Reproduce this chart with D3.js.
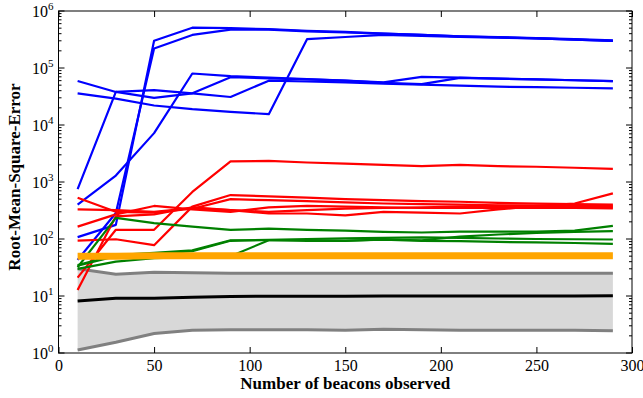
<!DOCTYPE html>
<html>
<head>
<meta charset="utf-8">
<script src="https://cdn.jsdelivr.net/npm/d3@7"></script>
<style>
  body { margin: 0; background: #fff; }
  svg { display: block; }
  text { font-family: "Liberation Serif", "DejaVu Serif", serif; fill: #000; }
</style>
</head>
<body>
<svg width="643" height="398"></svg>
<script>
// beacons observed (x positions of every series)
var beacons = [10, 30, 50, 70, 90, 110, 130, 150, 170, 190, 210, 230, 250, 270, 290];

var blueSeries = [
  [5.9e4, 3.8e4, 3.0e4, 3.6e4, 6.9e4, 6.6e4, 6.3e4, 6.0e4, 5.6e4, 7.0e4, 6.8e4, 6.5e4, 6.3e4, 6.1e4, 5.9e4],
  [3.6e4, 2.9e4, 2.2e4, 1.9e4, 1.7e4, 1.55e4, 3.2e5, 3.5e5, 3.8e5, 3.65e5, 3.5e5, 3.4e5, 3.3e5, 3.15e5, 3.0e5],
  [750, 3.8e4, 4.1e4, 3.6e4, 3.1e4, 6.0e4, 5.8e4, 5.6e4, 5.3e4, 5.1e4, 4.9e4, 4.7e4, 4.6e4, 4.5e4, 4.4e4],
  [400, 1.3e3, 7.2e3, 8.0e4, 7.2e4, 6.8e4, 6.4e4, 6.0e4, 5.5e4, 5.2e4, 6.7e4, 6.5e4, 6.3e4, 6.1e4, 5.9e4],
  [108, 177, 3.0e5, 5.1e5, 5.0e5, 4.8e5, 4.5e5, 4.3e5, 4.0e5, 3.8e5, 3.6e5, 3.5e5, 3.35e5, 3.2e5, 3.05e5],
  [43, 286, 2.2e5, 3.8e5, 4.7e5, 4.7e5, 4.4e5, 4.2e5, 4.0e5, 3.8e5, 3.6e5, 3.45e5, 3.3e5, 3.15e5, 3.0e5]
];

var redSeries = [
  [21, 145, 145, 670, 2300, 2350, 2200, 2100, 2000, 1900, 2000, 1900, 1850, 1780, 1700],
  [94, 99, 78, 370, 590, 560, 530, 500, 480, 460, 450, 430, 420, 410, 400],
  [530, 300, 290, 340, 500, 480, 460, 440, 420, 410, 400, 390, 390, 380, 380],
  [330, 320, 300, 350, 320, 300, 320, 340, 350, 360, 370, 380, 370, 360, 360],
  [165, 270, 380, 330, 300, 360, 380, 370, 360, 350, 350, 350, 350, 350, 345],
  [12.7, 250, 270, 360, 320, 280, 280, 260, 300, 290, 280, 330, 380, 420, 630]
];

var greenSeries = [
  [32, 235, 190, 165, 145, 152, 145, 140, 133, 130, 135, 135, 135, 140, 170],
  [35, 52, 57, 63, 95, 95, 93, 93, 98, 95, 110, 120, 128, 133, 138],
  [34, 50, 55, 61, 93, 97, 100, 103, 105, 107, 105, 102, 100, 99, 98],
  [30, 40, 46, 48, 50, 95, 96, 94, 97, 93, 92, 89, 87, 85, 82]
];

var orangeValues = [50, 50, 51, 51, 51, 51, 51, 51, 51, 51, 51, 51, 51, 51, 51];

var bandUpper = [30, 24, 26, 25.5, 25, 25, 25, 25, 25, 25, 25, 25, 25, 25, 25];
var bandLower = [1.13, 1.54, 2.2, 2.5, 2.55, 2.55, 2.55, 2.5, 2.6, 2.55, 2.5, 2.5, 2.5, 2.5, 2.45];
var medianValues = [8.2, 9.1, 9.1, 9.5, 9.8, 9.9, 9.9, 9.9, 10, 10, 10, 10, 10, 10, 10.1];

var xTicks = [0, 50, 100, 150, 200, 250, 300];
var yPowers = [0, 1, 2, 3, 4, 5, 6];

var svg = d3.select('svg');
var plot = {l: 58.5, r: 632, t: 11, b: 353};

var x = d3.scaleLinear().domain([0, 300]).range([plot.l, plot.r]);
var y = d3.scaleLog().domain([1, 1e6]).range([plot.b, plot.t]);

var line = d3.line()
  .x(function(d, i) { return x(beacons[i]); })
  .y(function(d) { return y(d); });

svg.append('clipPath').attr('id', 'clip')
  .append('rect')
  .attr('x', plot.l).attr('y', plot.t)
  .attr('width', plot.r - plot.l).attr('height', plot.b - plot.t);

var g = svg.append('g').attr('clip-path', 'url(#clip)');

// shaded band
var area = d3.area()
  .x(function(d, i) { return x(beacons[i]); })
  .y0(function(d, i) { return y(bandLower[i]); })
  .y1(function(d) { return y(d); });

g.append('path')
  .datum(bandUpper)
  .attr('d', area)
  .attr('fill', '#d8d8d8');

[bandUpper, bandLower].forEach(function(s) {
  g.append('path').datum(s).attr('d', line)
    .attr('fill', 'none').attr('stroke', '#808080').attr('stroke-width', 3);
});

g.append('path').datum(medianValues).attr('d', line)
  .attr('fill', 'none').attr('stroke', '#000').attr('stroke-width', 3);

function drawGroup(series, color) {
  g.selectAll(null)
    .data(series)
    .enter()
    .append('path')
    .attr('d', line)
    .attr('fill', 'none')
    .attr('stroke', color)
    .attr('stroke-width', 2.2)
    .attr('stroke-linejoin', 'round');
}

drawGroup(blueSeries, '#0000ff');
drawGroup(redSeries, '#ff0000');
drawGroup(greenSeries, '#008000');

g.append('path').datum(orangeValues).attr('d', line)
  .attr('fill', 'none').attr('stroke', '#ffa500').attr('stroke-width', 7);

// frame
svg.append('rect')
  .attr('x', plot.l).attr('y', plot.t)
  .attr('width', plot.r - plot.l).attr('height', plot.b - plot.t)
  .attr('fill', 'none').attr('stroke', '#000').attr('stroke-width', 1);

// x axes, ticks pointing inward
var xBottom = svg.append('g')
  .attr('transform', 'translate(0,' + plot.b + ')')
  .call(d3.axisBottom(x).tickValues(xTicks).tickSize(-6).tickPadding(7).tickFormat(d3.format('d')));
var xTop = svg.append('g')
  .attr('transform', 'translate(0,' + plot.t + ')')
  .call(d3.axisTop(x).tickValues(xTicks).tickSize(-6).tickFormat(''));

[xBottom, xTop].forEach(function(a) {
  a.select('.domain').remove();
  a.selectAll('text').style('font-family', '"Liberation Serif", serif').style('font-size', '16px');
});

// log y ticks: majors and minors on both sides
var minor = [];
yPowers.slice(0, -1).forEach(function(p) {
  for (var k = 2; k <= 9; k++) minor.push(k * Math.pow(10, p));
});

[plot.l, plot.r].forEach(function(px) {
  var dir = px === plot.l ? 1 : -1;
  svg.append('g').selectAll('line')
    .data(yPowers)
    .enter().append('line')
    .attr('x1', px).attr('x2', px + dir * 6)
    .attr('y1', function(d) { return y(Math.pow(10, d)); })
    .attr('y2', function(d) { return y(Math.pow(10, d)); })
    .attr('stroke', '#000');
  svg.append('g').selectAll('line')
    .data(minor)
    .enter().append('line')
    .attr('x1', px).attr('x2', px + dir * 3)
    .attr('y1', function(d) { return y(d); })
    .attr('y2', function(d) { return y(d); })
    .attr('stroke', '#000');
});

var yLabels = svg.append('g').selectAll('text')
  .data(yPowers)
  .enter().append('text')
  .attr('x', plot.l - 5)
  .attr('y', function(d) { return y(Math.pow(10, d)) + 6; })
  .attr('text-anchor', 'end')
  .style('font-size', '16px');
yLabels.append('tspan').text('10');
yLabels.append('tspan')
  .attr('dy', -7)
  .style('font-size', '11px')
  .text(function(d) { return d; });

svg.append('text')
  .attr('x', (plot.l + plot.r) / 2)
  .attr('y', 389)
  .attr('text-anchor', 'middle')
  .style('font-size', '17px')
  .style('font-weight', 'bold')
  .text('Number of beacons observed');

svg.append('text')
  .attr('transform', 'translate(20,177) rotate(-90)')
  .attr('text-anchor', 'middle')
  .style('font-size', '17px')
  .style('font-weight', 'bold')
  .text('Root-Mean-Square-Error');
</script>
</body>
</html>
